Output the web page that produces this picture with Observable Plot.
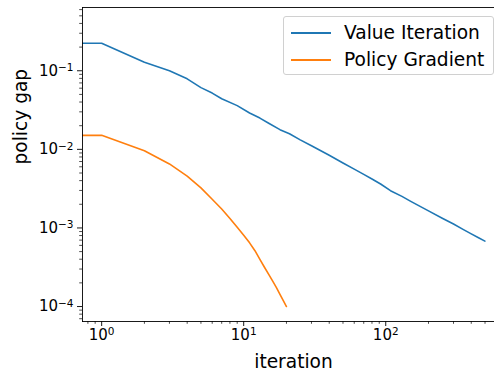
<!DOCTYPE html>
<html>
<head>
<meta charset="utf-8">
<script src="https://cdn.jsdelivr.net/npm/d3@7"></script>
<script src="https://cdn.jsdelivr.net/npm/@observablehq/plot@0.6"></script>
<style>
  body { margin: 0; background: #fff; overflow: hidden; }
  #wrap { position: relative; width: 494px; height: 371px; font-family: "DejaVu Sans", sans-serif; }
  .legend { position: absolute; left: 283px; top: 16px; width: 209px; height: 57px;
    border: 1px solid #d0d0d0; border-radius: 3px; background: rgba(255,255,255,0.8); }
  .row { position: absolute; left: 0; height: 24px; width: 100%; }
  .row .sw { position: absolute; left: 7px; top: 11px; width: 40px; height: 0; border-top: 2px solid; }
  .row .lb { position: absolute; left: 60px; top: 0; font-size: 18.6px; line-height: 24px; color: #000; white-space: nowrap; }
</style>
</head>
<body>
<div id="wrap"></div>
<script>
// ---- data ----
const seriesNames = ["Value Iteration", "Policy Gradient"];
const seriesColors = ["#1f77b4", "#ff7f0e"];

// Value Iteration: iteration 0 is clipped off the log axis (as in the original), visible part starts flat
const viIter = [0, 1, 2, 3, 4, 5, 6, 7, 9, 11, 13, 15, 18, 21, 25, 30, 40, 50, 60, 70, 80, 92, 108, 130, 150, 200, 250, 300, 350, 400, 450, 499];
const viGap  = [0.42, 0.224, 0.128, 0.100, 0.079, 0.061, 0.052, 0.044, 0.036, 0.029, 0.025, 0.0215, 0.0178, 0.0158, 0.0132, 0.0111, 0.0084, 0.0067, 0.0056, 0.0048, 0.0042, 0.00362, 0.00298, 0.00252, 0.00218, 0.00165, 0.00133, 0.00112, 0.00096, 0.00084, 0.00075, 0.00068];

// Policy Gradient
const pgIter = [0, 1, 2, 3, 4, 5, 6, 7, 8, 9, 10, 11, 12, 13, 14, 15, 16, 17, 18, 19, 20];
const pgGap  = [0.03, 0.01507, 0.00962, 0.00652, 0.00457, 0.00324, 0.00232, 0.00174, 0.00132, 0.00102, 0.000807, 0.000646, 0.000513, 0.000398, 0.000316, 0.000257, 0.000211, 0.000174, 0.000143, 0.000119, 0.000100];

// axis ticks
const xMajor = [1, 10, 100];
const xMinor = [0.8, 0.9, 2, 3, 4, 5, 6, 7, 8, 9, 20, 30, 40, 50, 60, 70, 80, 90, 200, 300, 400, 500];
const yMajor = [1e-4, 1e-3, 1e-2, 1e-1];
const yMinor = [7e-5, 8e-5, 9e-5,
  2e-4, 3e-4, 4e-4, 5e-4, 6e-4, 7e-4, 8e-4, 9e-4,
  2e-3, 3e-3, 4e-3, 5e-3, 6e-3, 7e-3, 8e-3, 9e-3,
  2e-2, 3e-2, 4e-2, 5e-2, 6e-2, 7e-2, 8e-2, 9e-2,
  2e-1, 3e-1, 4e-1, 5e-1, 6e-1];
const xLabel = "iteration";
const yLabel = "policy gap";

// ---- build table ----
const rows = [];
viIter.forEach((it, i) => rows.push({series: seriesNames[0], iteration: it, gap: viGap[i]}));
pgIter.forEach((it, i) => rows.push({series: seriesNames[1], iteration: it, gap: pgGap[i]}));
// matplotlib clips non-positive values on a log axis to a tiny positive number
const xOf = d => d.iteration <= 0 ? 1e-300 : d.iteration;

const fmt = d => "10^" + String(Math.round(Math.log10(d))).replace("-", "\u2212");

const chart = Plot.plot({
  width: 494,
  height: 371,
  marginLeft: 82,
  marginRight: 0,
  marginTop: 7,
  marginBottom: 50,
  style: {fontFamily: "DejaVu Sans, sans-serif", fontSize: "15px", color: "#000", background: "#fff", overflow: "visible"},
  x: {type: "log", domain: [0.733, 583]},
  y: {type: "log", domain: [6.45e-5, 0.638]},
  color: {domain: seriesNames, range: seriesColors},
  marks: [
    Plot.line(rows, {x: xOf, y: "gap", z: "series", stroke: "series", strokeWidth: 1.6, clip: true, strokeLinejoin: "round"}),
    Plot.frame({anchor: "left", stroke: "#000", strokeWidth: 0.9}),
    Plot.frame({anchor: "bottom", stroke: "#000", strokeWidth: 0.9}),
    Plot.frame({anchor: "top", stroke: "#000", strokeWidth: 0.9}),
    Plot.axisX(xMinor, {tickSize: 2.8, tickFormat: () => "", label: null, strokeWidth: 0.7}),
    Plot.axisX(xMajor, {tickSize: 5, tickPadding: 2.5, tickFormat: fmt, label: null, strokeWidth: 0.9, fontSize: 15}),
    Plot.axisY(yMinor, {tickSize: 2.8, tickFormat: () => "", label: null, strokeWidth: 0.7}),
    Plot.axisY(yMajor, {tickSize: 5, tickPadding: 4, tickFormat: fmt, label: null, strokeWidth: 0.9, fontSize: 15}),
    Plot.text([xLabel], {text: d => d, frameAnchor: "bottom", dx: 5, dy: 46, lineAnchor: "bottom", fontSize: 18.6}),
    Plot.text([yLabel], {text: d => d, frameAnchor: "left", dx: -61, rotate: -90, fontSize: 18.6})
  ]
});

// turn "10^k" labels into 10 with a real superscript exponent
chart.querySelectorAll("text").forEach(t => {
  const s = t.textContent;
  const m = /^10\^(.+)$/.exec(s);
  if (m) {
    t.textContent = "10";
    const ts = document.createElementNS("http://www.w3.org/2000/svg", "tspan");
    ts.setAttribute("dy", "-0.42em");
    ts.setAttribute("font-size", "10.5");
    ts.textContent = m[1];
    t.appendChild(ts);
  }
});

const wrap = document.getElementById("wrap");
wrap.appendChild(chart);

// legend (inside the axes, upper right)
const legend = document.createElement("div");
legend.className = "legend";
seriesNames.forEach((name, i) => {
  const row = document.createElement("div");
  row.className = "row";
  row.style.top = (4 + i * 27) + "px";
  const sw = document.createElement("div");
  sw.className = "sw";
  sw.style.borderTopColor = seriesColors[i];
  const lb = document.createElement("div");
  lb.className = "lb";
  lb.textContent = name;
  row.appendChild(sw);
  row.appendChild(lb);
  legend.appendChild(row);
});
wrap.appendChild(legend);
</script>
</body>
</html>
